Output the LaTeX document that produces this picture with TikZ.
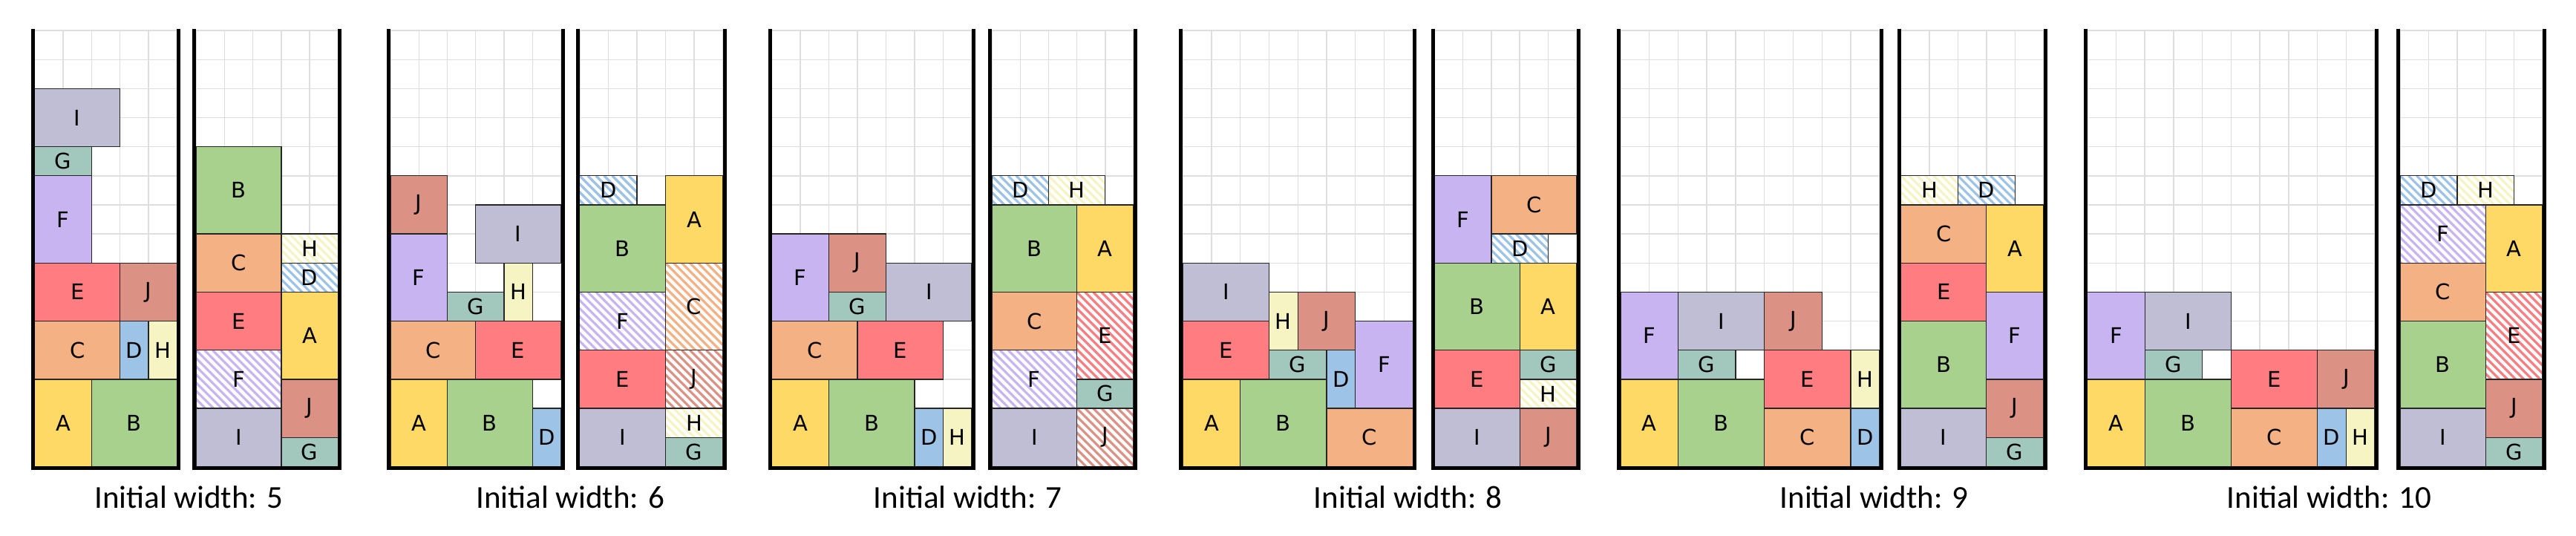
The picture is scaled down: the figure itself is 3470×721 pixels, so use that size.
\documentclass[tikz,border=0pt]{standalone}
\usepackage{fontspec}
\setmainfont{Carlito}
\newfontfamily\piecefont{DejaVu Sans}
\definecolor{cA}{HTML}{FFD966}
\definecolor{cB}{HTML}{A9D18E}
\definecolor{cC}{HTML}{F4B183}
\definecolor{cD}{HTML}{9DC3E6}
\definecolor{cE}{HTML}{FF7C80}
\definecolor{cF}{HTML}{C8B4F0}
\definecolor{cG}{HTML}{A2C8BE}
\definecolor{cH}{HTML}{F7F4C4}
\definecolor{cI}{HTML}{C0BED4}
\definecolor{cJ}{HTML}{DB9183}
\definecolor{gridgray}{HTML}{DEDEDE}
\newcommand\setbin[3]{%
  \def\binl{#1}\def\binr{#2}%
  \pgfmathsetmacro\bincw{(#2-#1)/#3}%
  \foreach \i in {0,...,#3} \draw[gridln] ({#1+\i*\bincw},41.05) -- ({#1+\i*\bincw},628.3);%
  \foreach \j in {0,...,15} \draw[gridln] (#1,{628.3-\j*39.15}) -- (#2,{628.3-\j*39.15});%
}
\newcommand\walls{\draw[wallln] ({\binl-2.5},38.5) -- ({\binl-2.5},630.8) -- ({\binr+2.5},630.8) -- ({\binr+2.5},38.5);}
\newcommand\pc[7]{%
  \node[#7, anchor=south west, minimum width={#5*\bincw*1pt}, minimum height={#6*39.15pt}] (#1) at ({\binl+#3*\bincw},{628.3-#4*39.15}) {#2};%
}
\begin{document}
\begin{tikzpicture}[x=1pt,y=-1pt,
  gridln/.style={draw=gridgray, line width=1.4pt},
  wallln/.style={draw=black, line width=5pt, line join=miter},
  piece/.style={draw=black!85, line width=1.3pt, inner sep=0pt, outer sep=0pt, font=\piecefont\fontsize{29}{29}\selectfont},
  sol/.style={piece, fill=#1},
  hat/.style={piece, fill=white, path picture={
      \foreach \k in {-143,-132,...,143}
        \draw[#1, line width=3.2pt] ([xshift=\k*1pt]path picture bounding box.north west) -- ++(170pt,-170pt);
    }},
  capt/.style={font=\fontsize{43}{43}\selectfont, anchor=base, text=black}
]
\useasboundingbox[fill=white] (0,0) rectangle (3470,721);

% ---------------- Pair 1 ----------------
\setbin{46.7}{238.3}{5}
\pc{p1La}{A}{0}{0}{2}{3}{sol=cA}
\pc{p1Lb}{B}{2}{0}{3}{3}{sol=cB}
\pc{p1Lc}{C}{0}{3}{3}{2}{sol=cC}
\pc{p1Ld}{D}{3}{3}{1}{2}{sol=cD}
\pc{p1Lh}{H}{4}{3}{1}{2}{sol=cH}
\pc{p1Le}{E}{0}{5}{3}{2}{sol=cE}
\pc{p1Lj}{J}{3}{5}{2}{2}{sol=cJ}
\pc{p1Lf}{F}{0}{7}{2}{3}{sol=cF}
\pc{p1Lg}{G}{0}{10}{2}{1}{sol=cG}
\pc{p1Li}{I}{0}{11}{3}{2}{sol=cI}
\walls
\setbin{264.3}{455.3}{5}
\pc{p1Ri}{I}{0}{0}{3}{2}{sol=cI}
\pc{p1Rf}{F}{0}{2}{3}{2}{hat=cF}
\pc{p1Re}{E}{0}{4}{3}{2}{sol=cE}
\pc{p1Rc}{C}{0}{6}{3}{2}{sol=cC}
\pc{p1Rb}{B}{0}{8}{3}{3}{sol=cB}
\pc{p1Rg}{G}{3}{0}{2}{1}{sol=cG}
\pc{p1Rj}{J}{3}{1}{2}{2}{sol=cJ}
\pc{p1Ra}{A}{3}{3}{2}{3}{sol=cA}
\pc{p1Rd}{D}{3}{6}{2}{1}{hat=cD}
\pc{p1Rh}{H}{3}{7}{2}{1}{hat=cH}
\walls
\node[capt] (cap5) at (254.2,684) {Initial width: 5};

% ---------------- Pair 2 ----------------
\setbin{526}{755.5}{6}
\pc{p2La}{A}{0}{0}{2}{3}{sol=cA}
\pc{p2Lb}{B}{2}{0}{3}{3}{sol=cB}
\pc{p2Ld}{D}{5}{0}{1}{2}{sol=cD}
\pc{p2Lc}{C}{0}{3}{3}{2}{sol=cC}
\pc{p2Le}{E}{3}{3}{3}{2}{sol=cE}
\pc{p2Lf}{F}{0}{5}{2}{3}{sol=cF}
\pc{p2Lg}{G}{2}{5}{2}{1}{sol=cG}
\pc{p2Lh}{H}{4}{5}{1}{2}{sol=cH}
\pc{p2Li}{I}{3}{7}{3}{2}{sol=cI}
\pc{p2Lj}{J}{0}{8}{2}{2}{sol=cJ}
\walls
\setbin{780.8}{973.5}{5}
\pc{p2Ri}{I}{0}{0}{3}{2}{sol=cI}
\pc{p2Rg}{G}{3}{0}{2}{1}{sol=cG}
\pc{p2Rh}{H}{3}{1}{2}{1}{hat=cH}
\pc{p2Re}{E}{0}{2}{3}{2}{sol=cE}
\pc{p2Rj}{J}{3}{2}{2}{2}{hat=cJ}
\pc{p2Rf}{F}{0}{4}{3}{2}{hat=cF}
\pc{p2Rc}{C}{3}{4}{2}{3}{hat=cC}
\pc{p2Rb}{B}{0}{6}{3}{3}{sol=cB}
\pc{p2Ra}{A}{3}{7}{2}{3}{sol=cA}
\pc{p2Rd}{D}{0}{9}{2}{1}{hat=cD}
\walls
\node[capt] (cap6) at (768.4,684) {Initial width: 6};

% ---------------- Pair 3 ----------------
\setbin{1039.6}{1309}{7}
\pc{p3La}{A}{0}{0}{2}{3}{sol=cA}
\pc{p3Lb}{B}{2}{0}{3}{3}{sol=cB}
\pc{p3Ld}{D}{5}{0}{1}{2}{sol=cD}
\pc{p3Lh}{H}{6}{0}{1}{2}{sol=cH}
\pc{p3Lc}{C}{0}{3}{3}{2}{sol=cC}
\pc{p3Le}{E}{3}{3}{3}{2}{sol=cE}
\pc{p3Lf}{F}{0}{5}{2}{3}{sol=cF}
\pc{p3Lg}{G}{2}{5}{2}{1}{sol=cG}
\pc{p3Lj}{J}{2}{6}{2}{2}{sol=cJ}
\pc{p3Li}{I}{4}{5}{3}{2}{sol=cI}
\walls
\setbin{1336}{1527}{5}
\pc{p3Ri}{I}{0}{0}{3}{2}{sol=cI}
\pc{p3Rj}{J}{3}{0}{2}{2}{hat=cJ}
\pc{p3Rg}{G}{3}{2}{2}{1}{sol=cG}
\pc{p3Rf}{F}{0}{2}{3}{2}{hat=cF}
\pc{p3Re}{E}{3}{3}{2}{3}{hat=cE}
\pc{p3Rc}{C}{0}{4}{3}{2}{sol=cC}
\pc{p3Rb}{B}{0}{6}{3}{3}{sol=cB}
\pc{p3Ra}{A}{3}{6}{2}{3}{sol=cA}
\pc{p3Rd}{D}{0}{9}{2}{1}{hat=cD}
\pc{p3Rh}{H}{2}{9}{2}{1}{hat=cH}
\walls
\node[capt] (cap7) at (1303.9,684) {Initial width: 7};

% ---------------- Pair 4 ----------------
\setbin{1593.2}{1903.2}{8}
\pc{p4La}{A}{0}{0}{2}{3}{sol=cA}
\pc{p4Lb}{B}{2}{0}{3}{3}{sol=cB}
\pc{p4Lc}{C}{5}{0}{3}{2}{sol=cC}
\pc{p4Ld}{D}{5}{2}{1}{2}{sol=cD}
\pc{p4Lf}{F}{6}{2}{2}{3}{sol=cF}
\pc{p4Lg}{G}{3}{3}{2}{1}{sol=cG}
\pc{p4Le}{E}{0}{3}{3}{2}{sol=cE}
\pc{p4Lh}{H}{3}{4}{1}{2}{sol=cH}
\pc{p4Lj}{J}{4}{4}{2}{2}{sol=cJ}
\pc{p4Li}{I}{0}{5}{3}{2}{sol=cI}
\walls
\setbin{1932.5}{2123.6}{5}
\pc{p4Ri}{I}{0}{0}{3}{2}{sol=cI}
\pc{p4Rj}{J}{3}{0}{2}{2}{sol=cJ}
\pc{p4Re}{E}{0}{2}{3}{2}{sol=cE}
\pc{p4Rh}{H}{3}{2}{2}{1}{hat=cH}
\pc{p4Rg}{G}{3}{3}{2}{1}{sol=cG}
\pc{p4Rb}{B}{0}{4}{3}{3}{sol=cB}
\pc{p4Ra}{A}{3}{4}{2}{3}{sol=cA}
\pc{p4Rf}{F}{0}{7}{2}{3}{sol=cF}
\pc{p4Rd}{D}{2}{7}{2}{1}{hat=cD}
\pc{p4Rc}{C}{2}{8}{3}{2}{sol=cC}
\walls
\node[capt] (cap8) at (1896.8,684) {Initial width: 8};

% ---------------- Pair 5 ----------------
\setbin{2182.9}{2531.7}{9}
\pc{p5La}{A}{0}{0}{2}{3}{sol=cA}
\pc{p5Lb}{B}{2}{0}{3}{3}{sol=cB}
\pc{p5Lc}{C}{5}{0}{3}{2}{sol=cC}
\pc{p5Ld}{D}{8}{0}{1}{2}{sol=cD}
\pc{p5Le}{E}{5}{2}{3}{2}{sol=cE}
\pc{p5Lh}{H}{8}{2}{1}{2}{sol=cH}
\pc{p5Lg}{G}{2}{3}{2}{1}{sol=cG}
\pc{p5Lf}{F}{0}{3}{2}{3}{sol=cF}
\pc{p5Li}{I}{2}{4}{3}{2}{sol=cI}
\pc{p5Lj}{J}{5}{4}{2}{2}{sol=cJ}
\walls
\setbin{2560.6}{2752.6}{5}
\pc{p5Ri}{I}{0}{0}{3}{2}{sol=cI}
\pc{p5Rg}{G}{3}{0}{2}{1}{sol=cG}
\pc{p5Rj}{J}{3}{1}{2}{2}{sol=cJ}
\pc{p5Rb}{B}{0}{2}{3}{3}{sol=cB}
\pc{p5Rf}{F}{3}{3}{2}{3}{sol=cF}
\pc{p5Re}{E}{0}{5}{3}{2}{sol=cE}
\pc{p5Ra}{A}{3}{6}{2}{3}{sol=cA}
\pc{p5Rc}{C}{0}{7}{3}{2}{sol=cC}
\pc{p5Rh}{H}{0}{9}{2}{1}{hat=cH}
\pc{p5Rd}{D}{2}{9}{2}{1}{hat=cD}
\walls
\node[capt] (cap9) at (2524.6,684) {Initial width: 9};

% ---------------- Pair 6 ----------------
\setbin{2811.7}{3199}{10}
\pc{p6La}{A}{0}{0}{2}{3}{sol=cA}
\pc{p6Lb}{B}{2}{0}{3}{3}{sol=cB}
\pc{p6Lc}{C}{5}{0}{3}{2}{sol=cC}
\pc{p6Ld}{D}{8}{0}{1}{2}{sol=cD}
\pc{p6Lh}{H}{9}{0}{1}{2}{sol=cH}
\pc{p6Le}{E}{5}{2}{3}{2}{sol=cE}
\pc{p6Lj}{J}{8}{2}{2}{2}{sol=cJ}
\pc{p6Lg}{G}{2}{3}{2}{1}{sol=cG}
\pc{p6Lf}{F}{0}{3}{2}{3}{sol=cF}
\pc{p6Li}{I}{2}{4}{3}{2}{sol=cI}
\walls
\setbin{3233.3}{3424.8}{5}
\pc{p6Ri}{I}{0}{0}{3}{2}{sol=cI}
\pc{p6Rg}{G}{3}{0}{2}{1}{sol=cG}
\pc{p6Rj}{J}{3}{1}{2}{2}{sol=cJ}
\pc{p6Rb}{B}{0}{2}{3}{3}{sol=cB}
\pc{p6Re}{E}{3}{3}{2}{3}{hat=cE}
\pc{p6Rc}{C}{0}{5}{3}{2}{sol=cC}
\pc{p6Ra}{A}{3}{6}{2}{3}{sol=cA}
\pc{p6Rf}{F}{0}{7}{3}{2}{hat=cF}
\pc{p6Rd}{D}{0}{9}{2}{1}{hat=cD}
\pc{p6Rh}{H}{2}{9}{2}{1}{hat=cH}
\walls
\node[capt] (cap10) at (3137.6,684) {Initial width: 10};
\end{tikzpicture}
\end{document}
